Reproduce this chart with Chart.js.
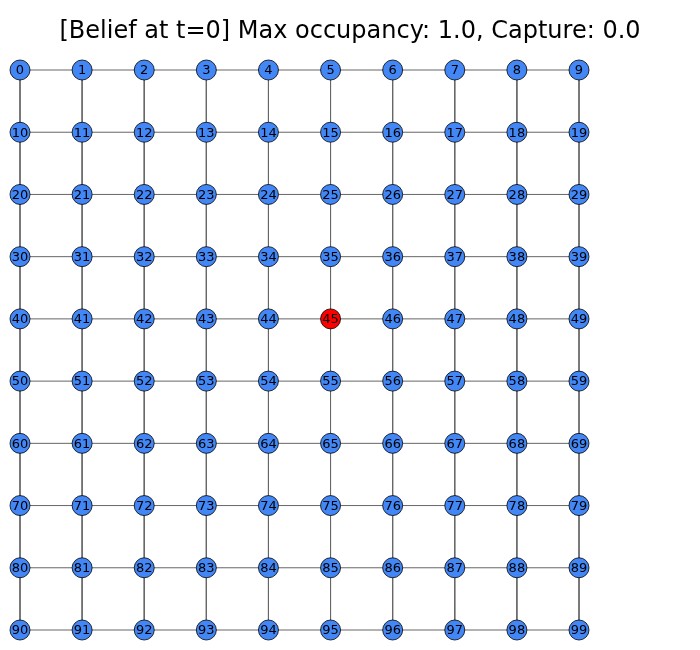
<!DOCTYPE html>
<html>
<head>
<meta charset="utf-8">
<script src="https://cdn.jsdelivr.net/npm/chart.js@4/dist/chart.umd.min.js"></script>
<style>
  body { margin: 0; background: #fff; }
  #wrap { width: 700px; height: 650px; }
</style>
</head>
<body>
<div id="wrap"><canvas id="grid"></canvas></div>
<script>
// Grid graph data
const titleText = '[Belief at t=0] Max occupancy: 1.0, Capture: 0.0';
const columns = [0, 1, 2, 3, 4, 5, 6, 7, 8, 9];
const rows = [0, 1, 2, 3, 4, 5, 6, 7, 8, 9];
const occupiedNodes = [45];

const nodeBlue = '#4287f5';
const nodeRed = '#ff0000';

const nodes = [];
rows.forEach(r => columns.forEach(c => {
    nodes.push({ x: c, y: r, id: r * columns.length + c });
}));

// edges: one line per row and per column
const edgeSets = [];
rows.forEach(r => edgeSets.push(columns.map(c => ({ x: c, y: r }))));
columns.forEach(c => edgeSets.push(rows.map(r => ({ x: c, y: r }))));

const datasets = edgeSets.map(pts => ({
    data: pts,
    showLine: true,
    borderColor: '#666666',
    borderWidth: 1,
    pointRadius: 0,
    clip: false,
    order: 2
}));

datasets.push({
    data: nodes,
    pointRadius: 10,
    pointHoverRadius: 10,
    pointBackgroundColor: nodes.map(n => occupiedNodes.includes(n.id) ? nodeRed : nodeBlue),
    pointBorderColor: '#000',
    pointBorderWidth: 0.8,
    showLine: false,
    clip: false,
    order: 1
});

const labelPlugin = {
    id: 'nodeLabels',
    afterDatasetsDraw(chart) {
        const ctx = chart.ctx;
        const meta = chart.getDatasetMeta(chart.data.datasets.length - 1);
        ctx.save();
        ctx.font = '13px "DejaVu Sans"';
        ctx.fillStyle = '#000';
        ctx.textAlign = 'center';
        ctx.textBaseline = 'middle';
        meta.data.forEach((pt, i) => ctx.fillText(String(nodes[i].id), pt.x, pt.y + 1));
        ctx.font = '24px "DejaVu Sans"';
        ctx.fillText(titleText, chart.width / 2, 32);
        ctx.restore();
    }
};

new Chart(document.getElementById('grid'), {
    type: 'scatter',
    data: { datasets },
    options: {
        responsive: true,
        maintainAspectRatio: false,
        animation: false,
        layout: { padding: { top: 70, bottom: 20, left: 20, right: 121 } },
        scales: {
            x: { display: false, min: 0, max: 9 },
            y: { display: false, min: 0, max: 9, reverse: true }
        },
        plugins: {
            legend: { display: false },
            tooltip: { enabled: false }
        }
    },
    plugins: [labelPlugin]
});
</script>
</body>
</html>
